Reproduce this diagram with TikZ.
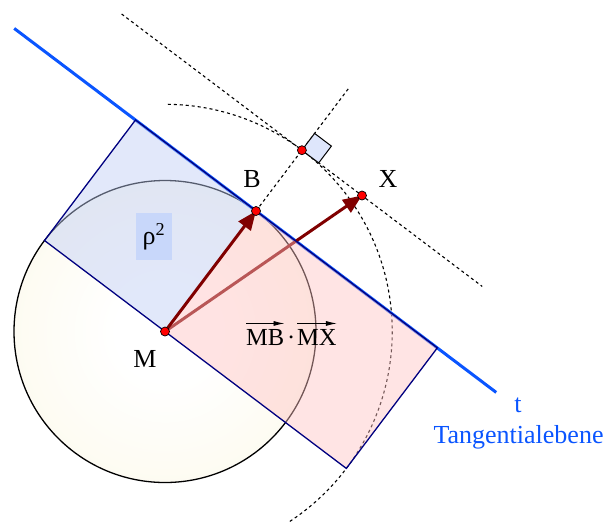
\documentclass[tikz,border=0pt]{standalone}
\usepackage{fontspec}
\setmainfont{Liberation Serif}
\usetikzlibrary{arrows.meta,calc}
\definecolor{tanblue}{RGB}{10,85,255}
\definecolor{navyb}{RGB}{0,0,128}
\definecolor{darkred}{RGB}{128,0,0}
\definecolor{sqfill}{RGB}{190,205,245}
\definecolor{rectfill}{RGB}{255,195,195}
\definecolor{rhoboxc}{RGB}{200,215,250}
\definecolor{circout}{RGB}{251,246,222}
\definecolor{anglefill}{RGB}{222,230,252}
\pgfdeclareradialshading{circsh}{\pgfpoint{0bp}{0bp}}{color(0bp)=(white); color(8bp)=(white); color(50bp)=(circout)}
\begin{document}
\begin{tikzpicture}[x=1pt,y=-1pt,
  font=\fontsize{26}{30}\selectfont,
  lbl/.style={anchor=base, inner sep=0pt},
  prodlbl/.style={anchor=base west, inner sep=0pt, font=\fontsize{24.5}{28}\selectfont},
  overarrow/.style={line width=0.9pt, -{Latex[length=11pt,width=5pt]}},
  dashline/.style={line width=1.1pt, dash pattern=on 3pt off 3pt},
  vec/.style={draw=darkred, line width=3pt, -{Triangle[length=19pt,width=15pt]}},
  dotpt/.style={circle, fill=red, draw=black, line width=0.7pt, inner sep=0pt, minimum size=9pt},
  facet/.style={fill opacity=0.45, draw=navyb, line width=1.3pt}]
\useasboundingbox (0,0) rectangle (612,523);
\coordinate (M) at (165,331.5);
\coordinate (B) at (256,211);
\coordinate (X) at (362,195.5);
\coordinate (F) at (301.9,150.2);
\coordinate (S) at (44.5,240.5);
\coordinate (T) at (135.5,120);
\coordinate (P) at (346.3,468.4);
\coordinate (Q) at (437.3,347.9);
\coordinate (t1) at (14.2,28.4);
\coordinate (t2) at (496.2,392.4);
\coordinate (x1) at (121.6,14.0);
\coordinate (x2) at (482.2,286.4);
\coordinate (b2) at (348.8,88.1);
\coordinate (R1) at (318.7,162.9);
\coordinate (R2) at (331.4,146.1);
\coordinate (R3) at (314.6,133.4);
% sphere section
\shade[shading=circsh] (M) circle[radius=151pt];
\draw[black, line width=1.3pt] (M) circle[radius=151pt];
% construction lines
\draw[dashline] (x1) -- (x2);
\draw[dashline] (B) -- (b2);
\draw[dashline] ($(M)+(89.3:227.24pt)$) arc[start angle=89.3, end angle=-57, radius=227.24pt];
% tangent plane
\draw[tanblue, line width=3pt] (t1) -- (t2);
\draw[vec] (M) -- (X);
\filldraw[facet, fill=sqfill] (M) -- (S) -- (T) -- (B) -- cycle;
\filldraw[facet, fill=rectfill] (M) -- (P) -- (Q) -- (B) -- cycle;
\draw[vec] (M) -- (B);
\filldraw[fill=anglefill, draw=black, line width=1pt] (F) -- (R1) -- (R2) -- (R3) -- cycle;
% labels
\node[fill=rhoboxc, minimum width=36pt, minimum height=47pt, inner sep=0pt] (rho) at (154,236.5) {ρ\textsuperscript{2}};
\node[lbl] (lB) at (252,187) {B};
\node[lbl] (lX) at (388,187) {X};
\node[lbl] (lM) at (145,367) {M};
\node[prodlbl] (lMB) at (246,345.5) {MB};
\node[prodlbl] (ldot) at (287,345.5) {·};
\node[prodlbl] (lMX) at (297,345.5) {MX};
\draw[overarrow] ([yshift=5.8pt]lMB.north west) -- ([yshift=5.8pt]lMB.north east);
\draw[overarrow] ([yshift=5.8pt]lMX.north west) -- ([yshift=5.8pt]lMX.north east);
\node[lbl, text=tanblue] (lt) at (518,412) {t};
\node[lbl, text=tanblue] (ltan) at (518.5,443) {Tangentialebene};
% points
\node[dotpt] (pM) at (M) {};
\node[dotpt] (pB) at (B) {};
\node[dotpt] (pX) at (X) {};
\node[dotpt] (pF) at (F) {};
\end{tikzpicture}
\end{document}
